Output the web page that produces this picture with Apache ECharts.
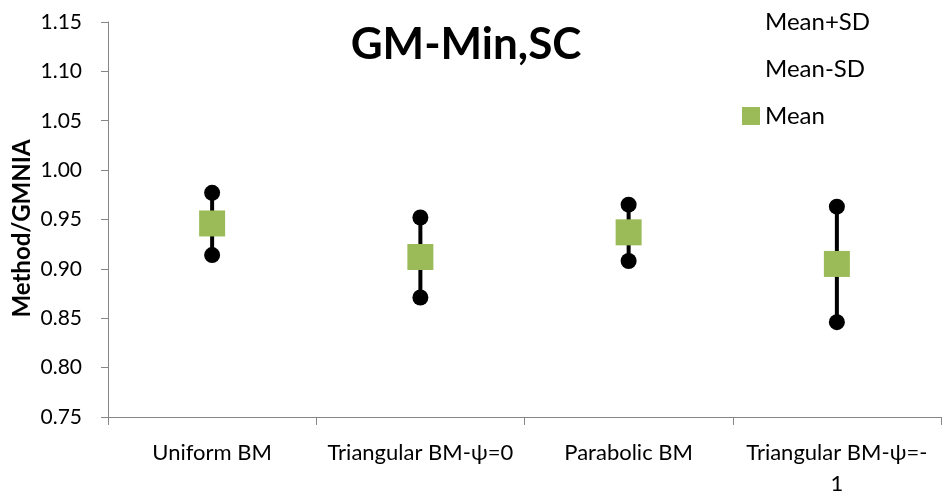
<!DOCTYPE html>
<html>
<head>
<meta charset="utf-8">
<script src="https://cdn.jsdelivr.net/npm/echarts@6/dist/echarts.min.js"></script>
<style>
  html, body { margin: 0; padding: 0; background: #fff; }
  #chart { width: 943px; height: 495px; }
</style>
</head>
<body>
<div id="chart"></div>
<script>
// Load cases along the x axis
const categories = ['Uniform BM', 'Triangular BM-ψ=0', 'Parabolic BM', 'Triangular BM-ψ=-\n1'];
// Method/GMNIA statistics per load case
const meanValues = [0.946, 0.912, 0.937, 0.905];
const meanPlusSD = [0.977, 0.952, 0.965, 0.963];
const meanMinusSD = [0.914, 0.871, 0.908, 0.846];
// y axis tick range
const yMin = 0.75, yMax = 1.15, yStep = 0.05;

const FONT = 'Lato, "Liberation Sans", sans-serif';
const chart = echarts.init(document.getElementById('chart'), null, { renderer: 'canvas' });

const option = {
  animation: false,
  backgroundColor: '#ffffff',
  title: {
    text: 'GM-Min,SC',
    left: 461,
    top: 18,
    textAlign: 'center',
    textStyle: { fontFamily: FONT, fontWeight: 'bold', fontSize: 44, color: '#000' }
  },
  legend: {
    orient: 'vertical',
    left: 742,
    top: 10,
    padding: 0,
    itemWidth: 18,
    itemHeight: 18,
    itemGap: 23,
    textStyle: { fontFamily: FONT, fontSize: 24, color: '#000', lineHeight: 18 },
    data: [
      { name: 'Mean+SD', icon: 'rect', itemStyle: { opacity: 0 } },
      { name: 'Mean-SD', icon: 'rect', itemStyle: { opacity: 0 } },
      { name: 'Mean', icon: 'rect' }
    ]
  },
  grid: { left: 108, right: 2, top: 22, bottom: 78, containLabel: false, outerBoundsMode: 'none' },
  xAxis: {
    type: 'category',
    data: categories,
    boundaryGap: true,
    axisLine: { lineStyle: { color: '#868686', width: 1 } },
    axisTick: { show: true, length: 8, lineStyle: { color: '#868686' } },
    axisLabel: {
      interval: 0,
      margin: 20,
      fontFamily: FONT,
      fontSize: 22,
      lineHeight: 31,
      color: '#000'
    },
    splitLine: { show: false }
  },
  yAxis: {
    type: 'value',
    min: yMin,
    max: yMax,
    interval: yStep,
    name: 'Method/GMNIA',
    nameLocation: 'middle',
    nameGap: 74,
    nameRotate: 90,
    nameMoveOverlap: false,
    nameTextStyle: { fontFamily: FONT, fontWeight: 'bold', fontSize: 24, color: '#000', padding: [0, 18, 0, 0] },
    axisLine: { show: true, lineStyle: { color: '#868686', width: 1 } },
    axisTick: { show: true, length: 7, lineStyle: { color: '#868686' } },
    axisLabel: {
      margin: 26,
      fontFamily: FONT,
      fontSize: 21,
      color: '#000',
      formatter: v => v.toFixed(2)
    },
    splitLine: { show: false }
  },
  series: [
    {
      name: 'range',
      type: 'custom',
      z: 1,
      data: categories.map((c, i) => [i, meanMinusSD[i], meanPlusSD[i]]),
      encode: { x: 0, y: [1, 2] },
      renderItem: function (params, api) {
        const lo = api.coord([api.value(0), api.value(1)]);
        const hi = api.coord([api.value(0), api.value(2)]);
        return {
          type: 'line',
          shape: { x1: lo[0], y1: lo[1], x2: hi[0], y2: hi[1] },
          style: { stroke: '#000', lineWidth: 4 }
        };
      }
    },
    {
      name: 'Mean+SD',
      type: 'scatter',
      z: 2,
      symbol: 'circle',
      symbolSize: 16,
      itemStyle: { color: '#000', opacity: 1 },
      data: meanPlusSD
    },
    {
      name: 'Mean-SD',
      type: 'scatter',
      z: 2,
      symbol: 'circle',
      symbolSize: 16,
      itemStyle: { color: '#000', opacity: 1 },
      data: meanMinusSD
    },
    {
      name: 'Mean',
      type: 'scatter',
      z: 3,
      symbol: 'rect',
      symbolSize: 26,
      itemStyle: { color: '#9BBB59', opacity: 1 },
      data: meanValues
    }
  ]
};

chart.setOption(option);
</script>
</body>
</html>
